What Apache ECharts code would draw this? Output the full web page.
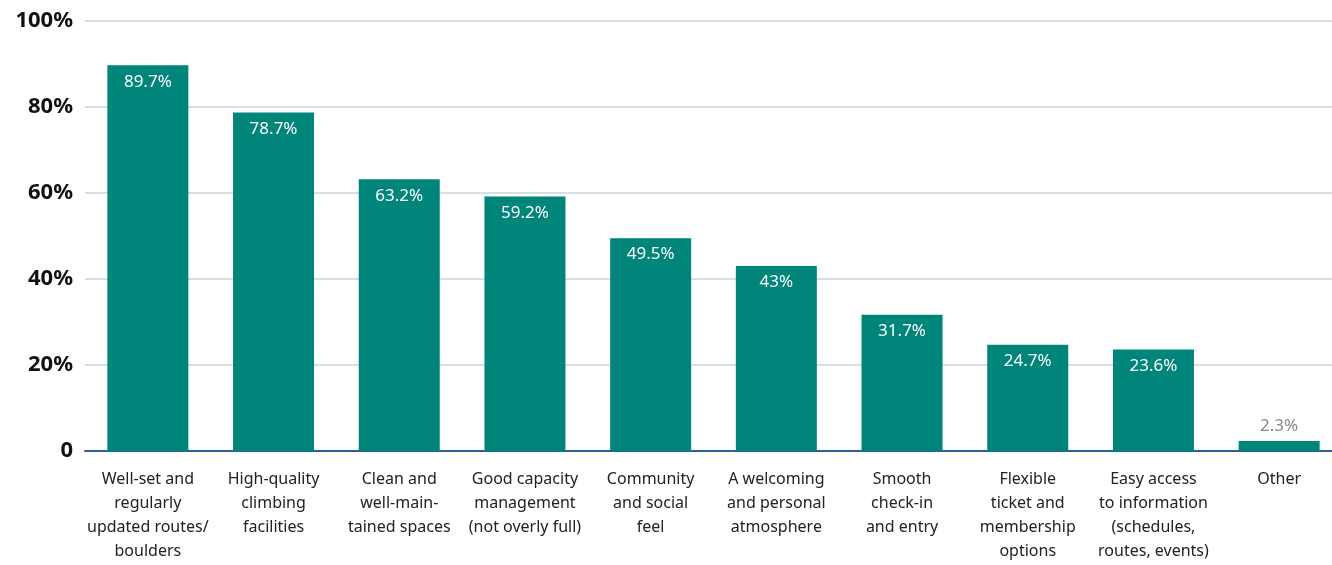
<!DOCTYPE html>
<html><head><meta charset="utf-8">
<script src="https://cdn.jsdelivr.net/npm/echarts@6/dist/echarts.min.js"></script>
<style>html,body{margin:0;padding:0;background:#fff;overflow:hidden;width:1332px;height:565px}#c{width:1342px;height:565px}</style>
</head><body><div id="c"></div>
<script>
const categories = [
  "Well-set and\nregularly\nupdated routes/\nboulders",
  "High-quality\nclimbing\nfacilities",
  "Clean and\nwell-main-\ntained spaces",
  "Good capacity\nmanagement\n(not overly full)",
  "Community\nand social\nfeel",
  "A welcoming\nand personal\natmosphere",
  "Smooth\ncheck-in\nand entry",
  "Flexible\nticket and\nmembership\noptions",
  "Easy access\nto information\n(schedules,\nroutes, events)",
  "Other"
];
const values = [89.7, 78.7, 63.2, 59.2, 49.5, 43, 31.7, 24.7, 23.6, 2.3];
const yTicks = [0, 20, 40, 60, 80, 100];

const FONT = '"Noto Sans", sans-serif';
const chart = echarts.init(document.getElementById('c'));
chart.setOption({
  animation: false,
  grid: { left: 85, right: 0, top: 21, bottom: 114, containLabel: false },
  xAxis: {
    type: 'category', data: categories,
    axisLine: { lineStyle: { color: '#2b5f9e', width: 2 } },
    axisTick: { show: false },
    axisLabel: { interval: 0, color: '#222', fontFamily: FONT, fontSize: 16, lineHeight: 24, margin: 16 }
  },
  yAxis: {
    type: 'value', min: 0, max: 100, interval: 20,
    axisLine: { show: false }, axisTick: { show: false },
    splitLine: { lineStyle: { color: '#c9d6e1', width: 1.5 } },
    axisLabel: { color: '#111', fontFamily: FONT, fontWeight: 'bold', fontSize: 22, margin: 12,
      formatter: v => yTicks.includes(v) ? (v === 0 ? '0' : v + '%') : '' }
  },
  series: [{
    type: 'bar', barWidth: 81,
    data: values.map((v, i) => ({
      value: v,
      label: i === values.length - 1
        ? { position: 'top', color: '#8a8a8a', distance: 6 }
        : { position: 'insideTop', color: '#ffffff', distance: 8 }
    })),
    itemStyle: { color: '#00857a' },
    label: { show: true, fontFamily: FONT, fontSize: 17, formatter: p => p.value + '%' }
  }]
});
</script></body></html>
